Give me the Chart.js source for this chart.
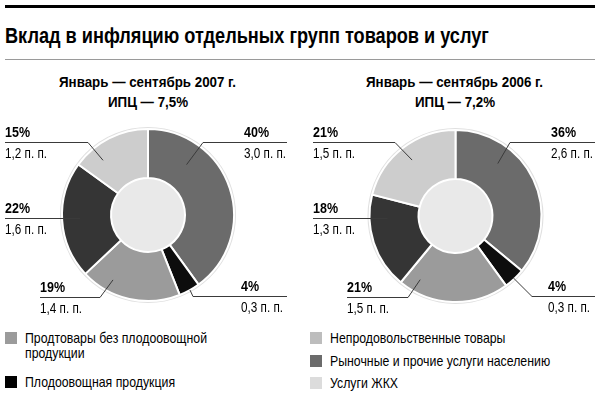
<!doctype html>
<html>
<head>
<meta charset="utf-8">
<title>Вклад в инфляцию отдельных групп товаров и услуг</title>
<script src="https://cdn.jsdelivr.net/npm/chart.js@4"></script>
<style>
	body {
		margin: 0;
		background: #fff;
	}
	.page {
		position: relative;
		width: 600px;
		height: 396px;
		overflow: hidden;
		font-family: "Liberation Sans", Arial, sans-serif;
		color: #000;
	}
	.rule-top {
		position: absolute; left: 5px; top: 5px; width: 590px; height: 3px; background: #000;
	}
	.rule-thin {
		position: absolute; left: 5px; top: 59px; width: 590px; height: 1px; background: #9a9a9a;
	}
	.title {
		position: absolute; left: 5px; top: 25px;
		font-size: 22px; font-weight: bold; line-height: 22px; white-space: nowrap;
	}
	.title span {
		display: inline-block; transform-origin: 0 0;
	}
	.sub {
		position: absolute; top: 72px; width: 300px;
		text-align: center; font-size: 15px; font-weight: bold; line-height: 20px; white-space: nowrap;
	}
	.sub span {
		display: inline-block; transform-origin: 50% 0;
	}
	.chart-box {
		position: absolute; top: 115px; width: 300px; height: 210px;
	}
	.legend-item {
		position: absolute; padding-left: 20px; font-size: 15px; line-height: 15px;
	}
	.legend-item i {
		position: absolute; left: 0; top: 2px; width: 12px; height: 12px;
	}
	.legend-item span {
		display: inline-block; transform-origin: 0 0;
	}
</style>
</head>
<body>
<div class="page" id="page">
	<div class="rule-top"></div>
	<div class="title"><span id="title">Вклад в инфляцию отдельных групп товаров и услуг</span></div>
	<div class="rule-thin"></div>
	<div class="sub" style="left:-2px"><span>Январь — сентябрь 2007 г.</span><br><span>ИПЦ — 7,5%</span></div>
	<div class="sub" style="left:305px"><span>Январь — сентябрь 2006 г.</span><br><span>ИПЦ — 7,2%</span></div>
	<div class="chart-box" style="left:0"><canvas id="c2007" width="300" height="210"></canvas></div>
	<div class="chart-box" style="left:300px"><canvas id="c2006" width="300" height="210"></canvas></div>
</div>
<script>
	var categories = [
		'Рыночные и прочие услуги населению',
		'Плодоовощная продукция',
		'Продтовары без плодоовощной продукции',
		'Непродовольственные товары',
		'Услуги ЖКХ'
	];
	var share2007 = [40, 4, 19, 22, 15];
	var points2007 = [3.0, 0.3, 1.4, 1.6, 1.2];
	var share2006 = [36, 4, 21, 18, 21];
	var points2006 = [2.6, 0.3, 1.5, 1.3, 1.5];

	var sliceColors = ['#6b6b6b', '#0d0d0d', '#9b9b9b', '#353535', '#cdcdcd'];
	var legendColors = ['#6b6b6b', '#000000', '#9b9b9b', '#bdbdbd', '#dcdcdc'];

	var FONT = '"Liberation Sans", Arial, sans-serif';

	// where each callout sits: text column, underline, and where the leader hits the slice
	var callouts2007 = [
		{x: 244, y: 27, x1: 203, x2: 287, ex: 203, t: 0.26, r: 0.54},
		{x: 241, y: 181, x1: 193, x2: 287, ex: 193, t: 0.47, r: 1.0},
		{x: 40, y: 182, x1: 40, x2: 100, ex: 100, t: 0.73, r: 0.75},
		{x: 5, y: 103, x1: 5, x2: 80, ex: 80, t: 0.51, r: 0.63},
		{x: 5, y: 27, x1: 5, x2: 88, ex: 88, t: 0.27, r: 0.69}
	];
	var callouts2006 = [
		{x: 251, y: 27, x1: 210, x2: 295, ex: 210, t: 0.30, r: 0.62},
		{x: 248, y: 181, x1: 232, x2: 295, ex: 232, t: 0.51, r: 0.97},
		{x: 47, y: 182, x1: 47, x2: 108, ex: 108, t: 0.86, r: 0.73},
		{x: 13, y: 103, x1: 13, x2: 87, ex: 87, t: 0.75, r: 0.63},
		{x: 13, y: 27, x1: 13, x2: 95, ex: 95, t: 0.50, r: 0.69}
	];

	// the print uses a condensed face; squeeze a regular one to the same widths
	var measureCtx = document.createElement('canvas').getContext('2d');
	function squeeze(font, sample, target) {
		measureCtx.font = font;
		return target / measureCtx.measureText(sample).width;
	}
	var kTitle = squeeze('bold 22px ' + FONT, 'Вклад в инфляцию отдельных г', 292);
	var kSub = squeeze('bold 15px ' + FONT, 'Январь — сентябрь 2007 г.', 177);
	var kLegend = squeeze('15px ' + FONT, 'Продтовары без плодоовощной', 182);
	var kPct = squeeze('bold 15px ' + FONT, '40%', 25);
	var kPts = squeeze('14px ' + FONT, '3,0 п. п.', 42);

	function fmtPoints(v) {
		return v.toFixed(1).replace('.', ',') + ' п. п.';
	}

	function drawSqueezed(ctx, text, x, y, k) {
		ctx.save();
		ctx.translate(x, y);
		ctx.scale(k, 1);
		ctx.fillText(text, 0, 0);
		ctx.restore();
	}

	var holePlugin = {
		id: 'hole',
		beforeDatasetsDraw: function(chart) {
			var arc = chart.getDatasetMeta(0).data[0];
			if (!arc) return;
			var p = arc.getProps(['x', 'y', 'innerRadius', 'outerRadius'], true);
			var ctx = chart.ctx;
			ctx.save();
			ctx.beginPath();
			ctx.arc(p.x, p.y, p.outerRadius + 1, 0, Math.PI * 2);
			ctx.strokeStyle = '#e0e0e0';
			ctx.lineWidth = 2;
			ctx.stroke();
			ctx.beginPath();
			ctx.arc(p.x, p.y, p.innerRadius, 0, Math.PI * 2);
			ctx.fillStyle = '#e9e9e9';
			ctx.fill();
			ctx.restore();
		}
	};

	var calloutPlugin = {
		id: 'callouts',
		afterDatasetsDraw: function(chart, args, opts) {
			var ctx = chart.ctx;
			var meta = chart.getDatasetMeta(0);
			var values = chart.data.datasets[0].data;
			ctx.save();
			meta.data.forEach(function(arc, i) {
				var c = opts.layout[i];
				var p = arc.getProps(['x', 'y', 'startAngle', 'endAngle', 'innerRadius', 'outerRadius'], true);
				var a = p.startAngle + c.t * (p.endAngle - p.startAngle);
				var rr = p.innerRadius + c.r * (p.outerRadius - p.innerRadius);
				var px = p.x + Math.cos(a) * rr;
				var py = p.y + Math.sin(a) * rr;

				ctx.strokeStyle = '#3a3a3a';
				ctx.lineWidth = 1;
				ctx.beginPath();
				ctx.moveTo(c.x1, c.y + 0.5);
				ctx.lineTo(c.x2, c.y + 0.5);
				ctx.stroke();
				ctx.beginPath();
				ctx.moveTo(c.ex, c.y + 0.5);
				ctx.lineTo(px, py);
				ctx.stroke();

				ctx.fillStyle = '#000';
				ctx.textAlign = 'left';
				ctx.textBaseline = 'alphabetic';
				ctx.font = 'bold 15px ' + FONT;
				drawSqueezed(ctx, values[i] + '%', c.x, c.y - 5, kPct);
				ctx.font = '14px ' + FONT;
				drawSqueezed(ctx, fmtPoints(opts.points[i]), c.x, c.y + 16, kPts);
			});
			ctx.restore();
		}
	};

	function createConfig(shares, points, layout, padding) {
		return {
			type: 'doughnut',
			data: {
				labels: categories,
				datasets: [{
					data: shares,
					backgroundColor: sliceColors,
					borderColor: '#ffffff',
					borderWidth: 2
				}]
			},
			options: {
				responsive: false,
				animation: false,
				radius: 86,
				cutout: '43%',
				layout: {padding: padding},
				plugins: {
					legend: {display: false},
					tooltip: {enabled: false},
					callouts: {layout: layout, points: points}
				}
			},
			plugins: [holePlugin, calloutPlugin]
		};
	}

	new Chart(document.getElementById('c2007').getContext('2d'),
		createConfig(share2007, points2007, callouts2007, {left: 0, right: 4, top: 0, bottom: 10}));
	new Chart(document.getElementById('c2006').getContext('2d'),
		createConfig(share2006, points2006, callouts2006, {left: 11, right: 0, top: 2, bottom: 10}));

	document.getElementById('title').style.transform = 'scaleX(' + kTitle + ')';
	document.querySelectorAll('.sub span').forEach(function(s) {
		s.style.transform = 'scaleX(' + kSub + ')';
	});

	// legend: two columns, same order as in the printed graphic
	var legendRows = [
		{i: 2, left: 5, top: 330, width: 195},
		{i: 1, left: 5, top: 374, width: 195},
		{i: 3, left: 310, top: 330, width: 280},
		{i: 0, left: 310, top: 353, width: 280},
		{i: 4, left: 310, top: 375, width: 280}
	];
	var page = document.getElementById('page');
	legendRows.forEach(function(row) {
		var div = document.createElement('div');
		div.className = 'legend-item';
		div.style.left = row.left + 'px';
		div.style.top = row.top + 'px';
		var sw = document.createElement('i');
		sw.style.background = legendColors[row.i];
		div.appendChild(sw);
		var span = document.createElement('span');
		span.style.width = (row.width / kLegend) + 'px';
		span.style.transform = 'scaleX(' + kLegend + ')';
		span.textContent = categories[row.i];
		div.appendChild(span);
		page.appendChild(div);
	});
</script>
</body>
</html>
